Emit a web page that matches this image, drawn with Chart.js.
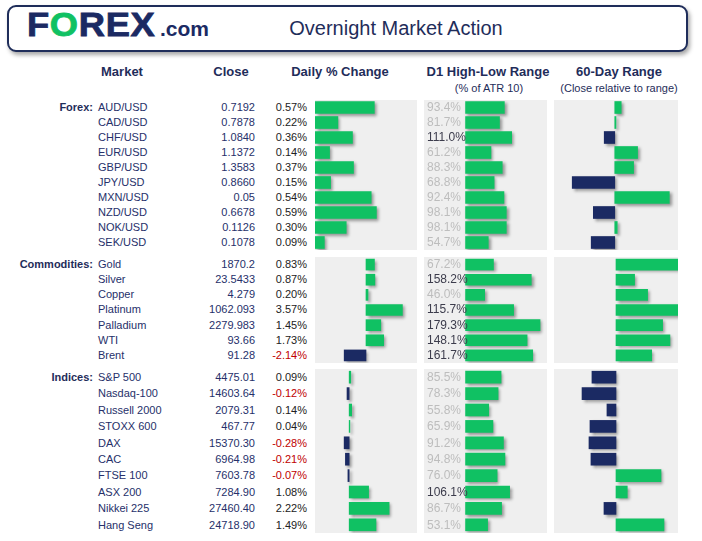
<!DOCTYPE html>
<html>
<head>
<meta charset="utf-8">
<script src="https://cdn.jsdelivr.net/npm/chart.js@4/dist/chart.umd.min.js"></script>
<style>
  body { margin:0; width:702px; height:541px; background:#fff; position:relative; overflow:hidden;
         font-family:"Liberation Sans", Arial, sans-serif; }
  .abs { position:absolute; white-space:nowrap; }
  #hdr { left:7px; top:5px; width:677px; height:43px; border:2px solid #1f2d5a; border-radius:9px;
         box-shadow:2px 3px 4px rgba(0,0,0,0.35); background:#fff; }
  .logo { font-weight:bold; color:#1b2a63; }
  .colh { font-weight:bold; font-size:13px; color:#1f2d5a; text-align:center; }
  .sub { font-size:11px; color:#1f2d5a; text-align:center; }
  .panel { background:#efefef; }
  .cell { font-size:11px; }
</style>
</head>
<body>
<div id="hdr" class="abs"></div>
<div class="abs logo" style="left:27px;top:6px;font-size:33px;letter-spacing:0.6px;line-height:38px;transform:scaleX(1.1);transform-origin:left center;-webkit-text-stroke:0.8px #1b2a63;">F<span style="color:#10c163;-webkit-text-stroke:0.8px #10c163;">O</span>REX</div>
<div class="abs logo" style="left:160px;top:16px;font-size:21px;line-height:26px;">.com</div>
<div class="abs" style="left:246px;top:16px;width:300px;text-align:center;font-size:20px;line-height:24px;color:#1f2d5a;">Overnight Market Action</div>

<div class="abs colh" style="left:72px;top:64px;width:100px;">Market</div>
<div class="abs colh" style="left:181px;top:64px;width:100px;">Close</div>
<div class="abs colh" style="left:280px;top:64px;width:120px;">Daily % Change</div>
<div class="abs colh" style="left:418px;top:64px;width:140px;">D1 High-Low Range</div>
<div class="abs colh" style="left:549px;top:64px;width:140px;">60-Day Range</div>
<div class="abs sub" style="left:429px;top:82px;width:120px;">(% of ATR 10)</div>
<div class="abs sub" style="left:549px;top:82px;width:140px;">(Close relative to range)</div>

<div id="root"></div>

<script>
// ---------- DATA ----------
const forexNames  = ["AUD/USD","CAD/USD","CHF/USD","EUR/USD","GBP/USD","JPY/USD","MXN/USD","NZD/USD","NOK/USD","SEK/USD"];
const forexClose  = ["0.7192","0.7878","1.0840","1.1372","1.3583","0.8660","0.05","0.6678","0.1126","0.1078"];
const forexChange = [0.57,0.22,0.36,0.14,0.37,0.15,0.54,0.59,0.30,0.09];
const forexD1     = [93.4,81.7,111.0,61.2,88.3,68.8,92.4,98.1,98.1,54.7];
const forex60     = [5.2,1,-8.5,18.4,15.2,-34.3,44,-17.3,2,-19];

const commNames   = ["Gold","Silver","Copper","Platinum","Palladium","WTI","Brent"];
const commClose   = ["1870.2","23.5433","4.279","1062.093","2279.983","93.66","91.28"];
const commChange  = [0.83,0.87,0.20,3.57,1.45,1.73,-2.14];
const commD1      = [67.2,158.2,46.0,115.7,179.3,148.1,161.7];
const comm60      = [50,15,25.5,50,37.6,43.5,28.8];

const idxNames    = ["S&P 500","Nasdaq-100","Russell 2000","STOXX 600","DAX","CAC","FTSE 100","ASX 200","Nikkei 225","Hang Seng"];
const idxClose    = ["4475.01","14603.64","2079.31","467.77","15370.30","6964.98","7603.78","7284.90","27460.40","24718.90"];
const idxChange   = [0.09,-0.12,0.14,0.04,-0.28,-0.21,-0.07,1.08,2.22,1.49];
const idxD1       = [85.5,78.3,55.8,65.9,91.2,94.8,76.0,106.1,86.7,53.1];
const idx60       = [-19.4,-27.4,-7.3,-21,-21.8,-20.2,36.3,9.1,-9.7,38.7];

const sectionTitles = ["Forex:","Commodities:","Indices:"];

// ---------- STYLE / LAYOUT ----------
const GREEN = "#10c163", NAVY = "#1b2a63";
const sections = [
  {title:sectionTitles[0], names:forexNames, close:forexClose, chg:forexChange, d1:forexD1, r60:forex60,
   top:100, h:150, chgMin:0, chgMax:0.98, r60Min:-49, r60Max:51, thick:12},
  {title:sectionTitles[1], names:commNames, close:commClose, chg:commChange, d1:commD1, r60:comm60,
   top:257, h:106, chgMin:-5, chgMax:5, r60Min:-50, r60Max:50, thick:11},
  {title:sectionTitles[2], names:idxNames, close:idxClose, chg:idxChange, d1:idxD1, r60:idx60,
   top:369, h:164, chgMin:-1.9, chgMax:3.77, r60Min:-50, r60Max:50, thick:12}
];
const cols = {chg:{x:315,w:102}, d1:{x:424,w:123}, r60:{x:554,w:124}};

const shadowPlugin = {
  id:'barShadow',
  beforeDatasetsDraw(chart){ const c=chart.ctx; c.save(); c.shadowColor='rgba(0,0,0,0.38)'; c.shadowBlur=3; c.shadowOffsetX=2; c.shadowOffsetY=2; },
  afterDatasetsDraw(chart){ chart.ctx.restore(); }
};

const root = document.getElementById('root');
function addDiv(style, text, cls){
  const d=document.createElement('div'); d.className='abs '+(cls||''); d.setAttribute('style',style);
  if(text!==undefined) d.textContent=text; root.appendChild(d); return d;
}

function makePanel(col, sec, values, min, max, colorFn){
  const wrap = addDiv(`left:${col.x}px;top:${sec.top}px;width:${col.w}px;height:${sec.h}px;`, undefined, 'panel');
  const cv = document.createElement('canvas'); cv.width=col.w; cv.height=sec.h;
  cv.style.width=col.w+'px'; cv.style.height=sec.h+'px'; cv.style.display='block';
  wrap.appendChild(cv);
  new Chart(cv, {
    type:'bar',
    data:{ labels:sec.names, datasets:[{ data:values, backgroundColor:values.map(colorFn), borderWidth:0, barThickness:sec.thick }]},
    options:{ indexAxis:'y', responsive:false, animation:false, events:[], devicePixelRatio:1,
      layout:{padding:0},
      plugins:{legend:{display:false}, tooltip:{enabled:false}},
      scales:{ x:{display:false, min:min, max:max}, y:{display:false} } },
    plugins:[shadowPlugin]
  });
}

sections.forEach(sec=>{
  const n = sec.names.length, rh = sec.h/n;
  sec.names.forEach((nm,i)=>{
    const y = sec.top + rh*i;
    const lh = `top:${y}px;height:${rh}px;line-height:${rh}px;`;
    if(i===0) addDiv(lh+`left:0;width:93px;text-align:right;font-weight:bold;font-size:11px;color:#1f2d5a;`, sec.title);
    addDiv(lh+`left:98px;color:#26306a;`, nm, 'cell');
    addDiv(lh+`left:175px;width:80px;text-align:right;color:#26306a;`, sec.close[i], 'cell');
    const c = sec.chg[i];
    addDiv(lh+`left:257px;width:50px;text-align:right;color:${c<0?'#c00000':'#222'};`, c.toFixed(2)+'%', 'cell');
  });
  makePanel(cols.chg, sec, sec.chg, sec.chgMin, sec.chgMax, v=>v<0?NAVY:GREEN);
  makePanel(cols.d1, sec, sec.d1, -100, 196, v=>GREEN);
  makePanel(cols.r60, sec, sec.r60, sec.r60Min, sec.r60Max, v=>v<0?NAVY:GREEN);
  sec.d1.forEach((v,i)=>{
    const y = sec.top + rh*i;
    addDiv(`top:${y}px;height:${rh}px;line-height:${rh}px;left:427px;font-size:12px;color:${v>=100?'#3c3c4c':'#bdbdbd'};`, v.toFixed(1)+'%');
  });
});
</script>
</body>
</html>
